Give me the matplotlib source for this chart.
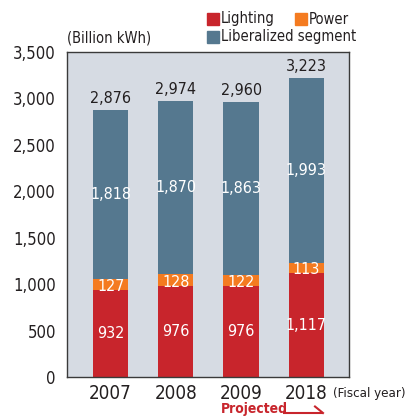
import matplotlib
matplotlib.use("Agg")
import matplotlib.pyplot as plt
from matplotlib.patches import Rectangle

years = ["2007", "2008", "2009", "2018"]
lighting = [932, 976, 976, 1117]
power = [127, 128, 122, 113]
liberalized = [1818, 1870, 1863, 1993]
totals = [2876, 2974, 2960, 3223]
yticks = [0, 500, 1000, 1500, 2000, 2500, 3000, 3500]

RED = "#c8252c"
ORANGE = "#f47b20"
BLUE = "#55788f"
BG = "#d6dbe3"
TXT = "#231f20"

plt.rcParams['font.family'] = ['DejaVu Sans']
plt.rcParams['font.stretch'] = 'condensed'

fig = plt.figure(figsize=(4.08, 4.18), dpi=100)
W, H = 408, 418
ax = fig.add_axes([67 / W, 1 - 377 / H, (349 - 67) / W, (377 - 52) / H])
ax.set_facecolor(BG)

x = list(range(len(years)))
bw = 0.54
ax.bar(x, lighting, bw, color=RED, zorder=2)
ax.bar(x, power, bw, bottom=lighting, color=ORANGE, zorder=2)
bot2 = [a + b for a, b in zip(lighting, power)]
ax.bar(x, liberalized, bw, bottom=bot2, color=BLUE, zorder=2)

def fmt(v):
    return f"{v:,}"

for i in x:
    ax.text(i, lighting[i] / 2, fmt(lighting[i]), ha='center', va='center',
            color='white', fontsize=11.5)
    ax.text(i, lighting[i] + power[i] / 2 - 20, fmt(power[i]), ha='center', va='center',
            color='white', fontsize=11.5)
    ax.text(i, bot2[i] + liberalized[i] / 2, fmt(liberalized[i]), ha='center', va='center',
            color='white', fontsize=11.5)
    ax.text(i, totals[i] + 45, fmt(totals[i]), ha='center', va='bottom',
            color=TXT, fontsize=11.5)

ax.set_xlim(-0.669, 3.654)
ax.set_ylim(0, 3500)
ax.set_yticks(yticks)
ax.set_yticklabels([fmt(v) for v in yticks], fontsize=12, color=TXT)
ax.set_xticks(x)
ax.set_xticklabels(years, fontsize=13.5, color=TXT)
ax.tick_params(length=0, pad=5)
ax.tick_params(axis='y', pad=8)
for s in ax.spines.values():
    s.set_color('#3a3a3a')
    s.set_linewidth(1.0)

# Unit label
fig.text(67 / W, 1 - 38 / H, "(Billion kWh)", fontsize=10.5, color=TXT, va='center', ha='left')
fig.text(333 / W, 1 - 393 / H, "(Fiscal year)", fontsize=9.5, color=TXT, va='center', ha='left')
fig.text(221 / W, 1 - 413.5 / H, "Projected", fontsize=10, color=RED, va='baseline', ha='left',
         fontweight='bold')
fig.add_artist(plt.Line2D([283 / W, 323 / W], [1 - 413 / H, 1 - 413 / H], color=RED, lw=1.5,
                          transform=fig.transFigure, solid_capstyle='butt'))
fig.add_artist(plt.Line2D([315 / W, 323 / W], [1 - 406.5 / H, 1 - 413 / H], color=RED, lw=1.5,
                          transform=fig.transFigure))

# Legend
def legsq(xp, yp, c, label):
    fig.patches.append(Rectangle((xp / W, 1 - (yp + 12) / H), 12 / W, 12 / H, color=c,
                                 transform=fig.transFigure))
    fig.text((xp + 14) / W, 1 - (yp + 6) / H, label, fontsize=10.5, color=TXT, va='center', ha='left')

legsq(207, 13, RED, "Lighting")
legsq(295, 13, ORANGE, "Power")
legsq(207, 31, BLUE, "Liberalized segment")

fig.savefig("out.png", dpi=100)
